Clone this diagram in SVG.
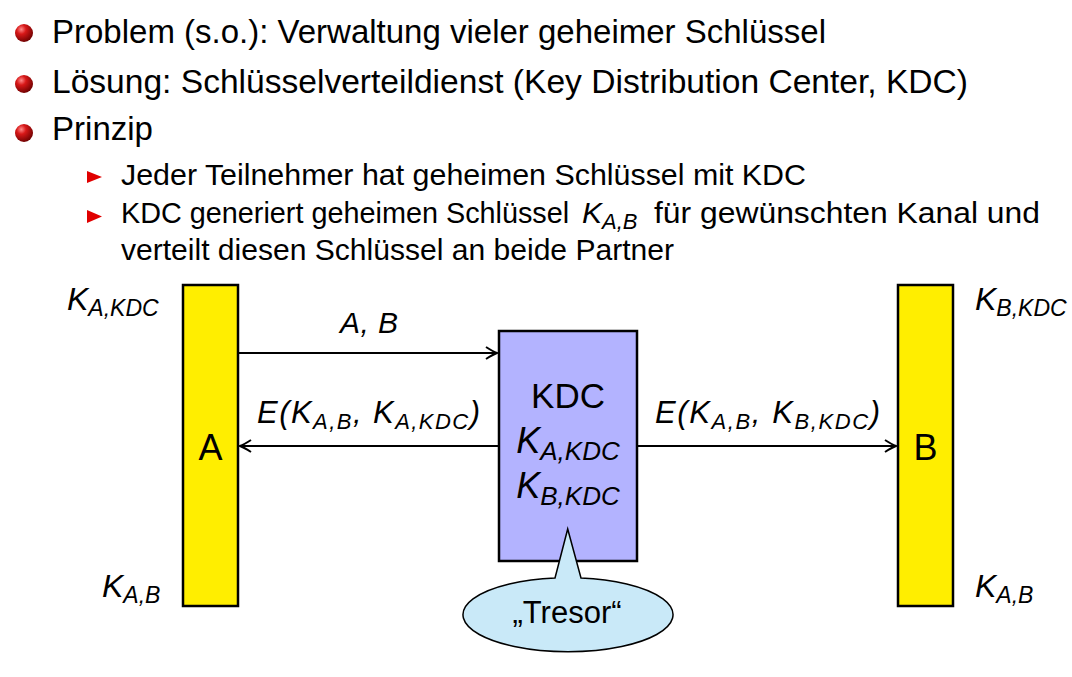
<svg xmlns="http://www.w3.org/2000/svg" width="1072" height="677" viewBox="0 0 1072 677">
<style>
text{font-family:"Liberation Sans",Arial,sans-serif;fill:#000}
.t1{font-size:33px}
.t2{font-size:30px}
.it{font-style:italic}
.box{stroke:#000;stroke-width:2.5}
.conn{stroke:#000;stroke-width:2;fill:none}
</style>
<defs>
<radialGradient id="ball" cx="0.35" cy="0.3" r="0.75">
<stop offset="0" stop-color="#ff8a8a"/>
<stop offset="0.35" stop-color="#d81818"/>
<stop offset="1" stop-color="#6a0000"/>
</radialGradient>
<marker id="arr" viewBox="-13 -8 15 16" markerWidth="15" markerHeight="16" refX="0" refY="0" orient="auto" markerUnits="userSpaceOnUse">
<path d="M-11,-6 Q-4,-1.5 0,0 Q-4,1.5 -11,6" fill="none" stroke="#000" stroke-width="2"/>
</marker>
</defs>

<g id="bullets">
<circle cx="24" cy="33" r="9" fill="url(#ball)"/>
<text class="t1" x="52" y="43" textLength="774" lengthAdjust="spacingAndGlyphs">Problem (s.o.): Verwaltung vieler geheimer Schlüssel</text>
<circle cx="24" cy="84" r="9" fill="url(#ball)"/>
<text class="t1" x="52" y="93" textLength="916" lengthAdjust="spacingAndGlyphs">Lösung: Schlüsselverteildienst (Key Distribution Center, KDC)</text>
<circle cx="24" cy="133" r="9" fill="url(#ball)"/>
<text class="t1" x="52" y="140" textLength="101" lengthAdjust="spacingAndGlyphs">Prinzip</text>
<polygon points="87,171 102,177 87,183" fill="#e00000"/>
<text class="t2" x="121" y="185" textLength="685" lengthAdjust="spacingAndGlyphs">Jeder Teilnehmer hat geheimen Schlüssel mit KDC</text>
<polygon points="87,210 102,216.5 87,223" fill="#e00000"/>
<text x="121" y="223" font-size="28.8">KDC generiert geheimen Schlüssel</text>
<text class="t2 it" x="582" y="223">K<tspan font-size="22" dy="6">A,B</tspan></text>
<text class="t2" x="654" y="223" textLength="386" lengthAdjust="spacingAndGlyphs">für gewünschten Kanal und</text>
<text class="t2" x="121" y="260" textLength="553" lengthAdjust="spacingAndGlyphs">verteilt diesen Schlüssel an beide Partner</text>
</g>

<g id="connectors">
<line class="conn" x1="239" y1="353" x2="497" y2="353" marker-end="url(#arr)"/>
<line class="conn" x1="498" y1="446" x2="240" y2="446" marker-end="url(#arr)"/>
<line class="conn" x1="638" y1="446" x2="896" y2="446" marker-end="url(#arr)"/>
<text class="it" font-size="30" x="340" y="333" textLength="58" lengthAdjust="spacing">A, B</text>
<text class="it" font-size="31" x="257" y="423" textLength="223" lengthAdjust="spacing">E(K<tspan font-size="22" dy="6">A,B</tspan><tspan dy="-6">, K</tspan><tspan font-size="22" dy="6">A,KDC</tspan><tspan dy="-6">)</tspan></text>
<text class="it" font-size="31" x="655" y="423" textLength="225" lengthAdjust="spacing">E(K<tspan font-size="22" dy="6">A,B</tspan><tspan dy="-6">, K</tspan><tspan font-size="22" dy="6">B,KDC</tspan><tspan dy="-6">)</tspan></text>
</g>

<g id="nodeA">
<rect class="box" x="183" y="285" width="55" height="321" fill="#ffee00"/>
<text font-size="36" x="210.5" y="460" text-anchor="middle">A</text>
<text class="it" font-size="32" x="67" y="310">K<tspan font-size="23" dy="6">A,KDC</tspan></text>
<text class="it" font-size="32" x="102" y="597">K<tspan font-size="23" dy="6">A,B</tspan></text>
</g>

<g id="nodeB">
<rect class="box" x="898" y="285" width="55" height="321" fill="#ffee00"/>
<text font-size="36" x="925.5" y="460" text-anchor="middle">B</text>
<text class="it" font-size="32" x="975" y="310">K<tspan font-size="23" dy="6">B,KDC</tspan></text>
<text class="it" font-size="32" x="975" y="597">K<tspan font-size="23" dy="6">A,B</tspan></text>
</g>

<g id="kdc">
<rect class="box" x="499" y="331" width="138" height="230" fill="#b3b3ff"/>
<text font-size="35" x="568" y="408" text-anchor="middle">KDC</text>
<text class="it" font-size="36" x="568" y="453" text-anchor="middle">K<tspan font-size="26" dy="7">A,KDC</tspan></text>
<text class="it" font-size="36" x="568" y="498" text-anchor="middle">K<tspan font-size="26" dy="7">B,KDC</tspan></text>
</g>

<g id="tresor">
<path d="M555,578 L567.7,529 L581,578 A105,37 0 1 1 555,578 Z" fill="#c9e9f8" stroke="#000" stroke-width="1.5"/>
<text font-size="31" x="567" y="623" text-anchor="middle">„Tresor“</text>
</g>
</svg>
